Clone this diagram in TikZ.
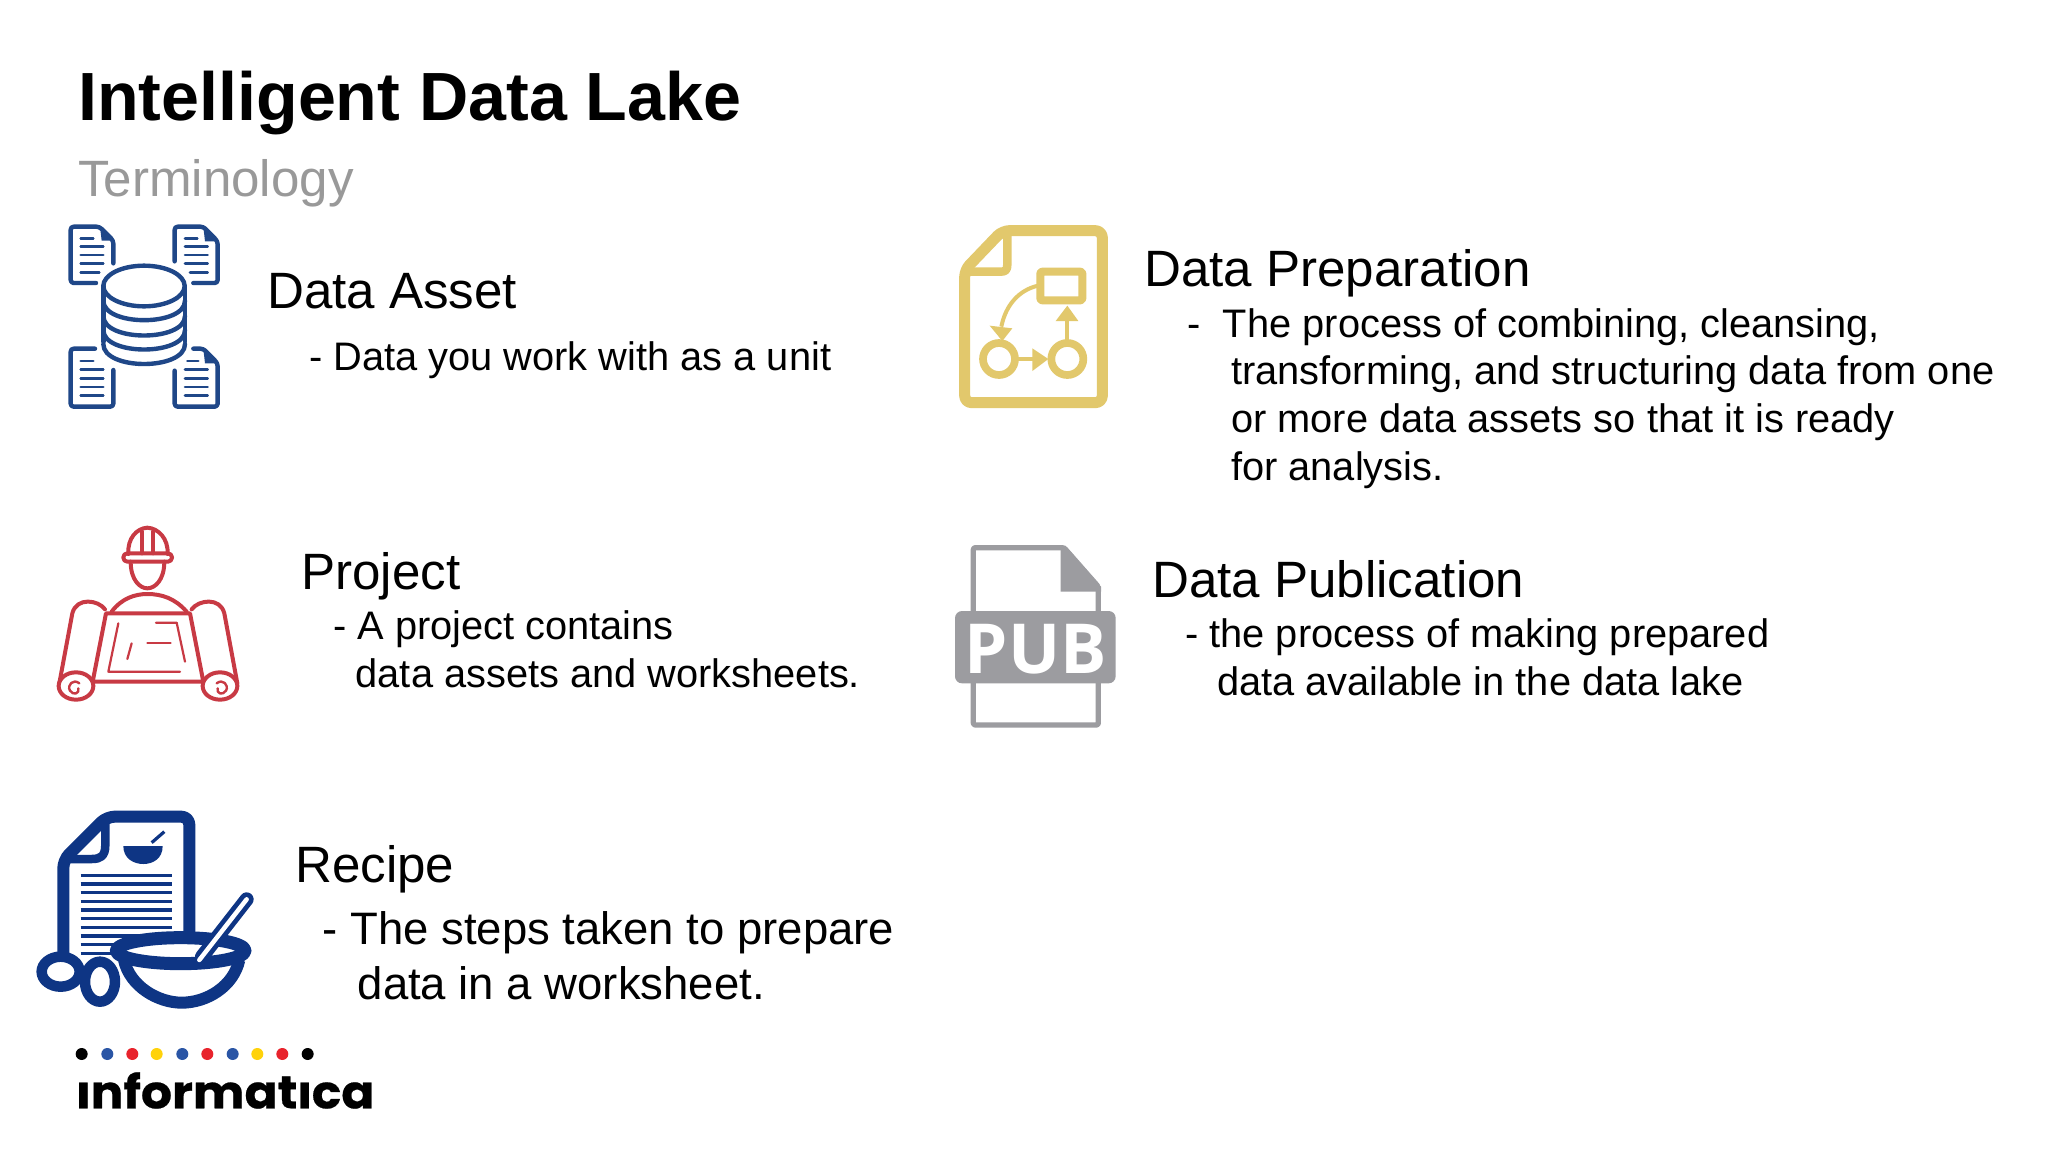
\documentclass[tikz,border=0pt]{standalone}
\usepackage{fontspec}
\setmainfont{Liberation Sans}
\newfontfamily\logofont[BoldFeatures={FakeBold=0.5,FakeStretch=1.06}]{Poppins}
\newfontfamily\pubfont{Open Sans}
\definecolor{assetblue}{HTML}{1F4788}
\definecolor{projred}{HTML}{C83A44}
\definecolor{recipeblue}{HTML}{0E3584}
\definecolor{prepgold}{HTML}{E2C86C}
\definecolor{pubgrey}{HTML}{9C9CA0}
\definecolor{subgrey}{HTML}{999999}
\definecolor{dotblue}{HTML}{2A55A5}
\definecolor{dotred}{HTML}{E8232C}
\definecolor{dotyellow}{HTML}{FFD20A}
\tikzset{
  txt/.style={anchor=base west,inner sep=0pt,text=black},
  titletxt/.style={txt,font=\fontsize{68.2}{68}\selectfont\bfseries},
  subtxt/.style={txt,text=subgrey,font=\fontsize{51.1}{51}\selectfont},
  headtxt/.style={txt,font=\fontsize{51.1}{51}\selectfont},
  bodytxt/.style={txt,font=\fontsize{39.8}{40}\selectfont},
  bigbody/.style={txt,font=\fontsize{45.5}{46}\selectfont},
  zA/.style={shift={(40,210)},x=0.33333pt,y=-0.33333pt},
  zB/.style={shift={(30,790)},x=0.33333pt,y=-0.33333pt},
  zP/.style={shift={(939,215)},x=0.33333pt,y=-0.33333pt},
  zQ/.style={shift={(940,535)},x=0.33333pt,y=-0.33333pt},
  logodot/.style={circle,inner sep=0pt,minimum size=12pt},
}
\begin{document}
\begin{tikzpicture}[x=1pt,y=-1pt]
\useasboundingbox (0,0) rectangle (2048,1152);
\fill[white] (0,0) rectangle (2048,1152);

% ---- texts
\node[titletxt] (title) at (78,120) {Intelligent Data Lake};
\node[subtxt] (sub) at (78,196) {Terminology};
\node[headtxt] (assetH) at (267,308) {Data Asset};
\node[bodytxt] (assetB) at (309,370) {- Data you work with as a unit};
\node[headtxt] (projH) at (301,589) {Project};
\node[bodytxt] (projA) at (333,639) {- A project contains};
\node[bodytxt] (projB) at (355.5,687) {data assets and worksheets.};
\node[headtxt] (recH) at (295,882) {Recipe};
\node[bigbody] (recA) at (322.5,944) {- The steps taken to prepare};
\node[bigbody] (recB) at (357.5,999) {data in a worksheet.};
\node[headtxt] (prepH) at (1144,286.5) {Data Preparation};
\node[bodytxt] (prepA) at (1187,337) {-\hspace{11.5pt} The process of combining, cleansing,};
\node[bodytxt] (prepB) at (1231,384.5) {transforming, and structuring data from one};
\node[bodytxt] (prepC) at (1231,432) {or more data assets so that it is ready};
\node[bodytxt] (prepD) at (1231,480) {for analysis.};
\node[headtxt] (pubH) at (1152,597) {Data Publication};
\node[bodytxt] (pubA) at (1185,647) {- the process of making prepared};
\node[bodytxt] (pubB) at (1217,695) {data available in the data lake};

% ---- data asset icon
\begin{scope}[zA,assetblue,line width=4.4pt,line join=round,line cap=round]
  \draw[rounded corners=3pt] (220,160) -- (220,92) -- (178,50) -- (92,50) -- (92,219) -- (168,219);
  \draw[rounded corners=3pt] (404,154) -- (404,50) -- (490,50) -- (533,94) -- (533,219) -- (460,219);
  \draw[rounded corners=3pt] (165,416) -- (92,416) -- (92,590) -- (220,590) -- (220,480);
  \draw[rounded corners=3pt] (404,482) -- (404,590) -- (533,590) -- (533,460) -- (490,416) -- (460,416);
  \fill (180,50) -- (220,92) -- (185,92) -- cycle;
  \fill (490,50) -- (533,94) -- (495,94) -- cycle;
  \fill (490,416) -- (533,460) -- (495,460) -- cycle;
  \begin{scope}[line width=2.6pt]
    \draw (122,85) -- (160,85) (122,110) -- (190,110) (122,135) -- (190,135) (122,161) -- (190,161) (122,187) -- (178,187);
    \draw (435,85) -- (472,85) (435,110) -- (503,110) (435,135) -- (503,135) (435,161) -- (503,161) (450,187) -- (503,187);
    \draw (122,453) -- (160,453) (122,479) -- (190,479) (122,505) -- (190,505) (122,531) -- (190,531) (122,556) -- (190,556);
    \draw (442,453) -- (475,453) (435,479) -- (503,479) (435,505) -- (503,505) (435,531) -- (503,531) (435,556) -- (503,556);
  \end{scope}
  \fill[white] (190,228) rectangle (435,400) (190,400) .. controls (190,480) and (435,480) .. (435,400);
  \draw (312,228) ellipse [x radius=122,y radius=61];
  \draw (190,228) -- (190,395) (435,228) -- (435,395);
  \draw (190,272) .. controls (190,350) and (435,350) .. (435,272);
  \draw (190,318) .. controls (190,396) and (435,396) .. (435,318);
  \draw (190,360) .. controls (190,438) and (435,438) .. (435,360);
  \draw (190,402) .. controls (190,482) and (435,482) .. (435,402);
\end{scope}

% ---- project icon
\begin{scope}[zA,projred,line width=4pt,line join=round,line cap=round]
  \draw (265,1032) .. controls (262,985) and (290,955) .. (322,953) .. controls (355,955) and (385,985) .. (383,1032);
  \draw[rounded corners=4pt] (250,1030) -- (396,1030) -- (396,1055) -- (250,1055) -- cycle;
  \draw (272,1055) .. controls (272,1110) and (300,1135) .. (322,1135) .. controls (345,1135) and (373,1110) .. (373,1055);
  \draw (306,965) -- (306,1030) (340,965) -- (340,1030);
  \draw (215,1205) .. controls (245,1165) and (285,1152) .. (322,1152) .. controls (365,1152) and (405,1165) .. (440,1205);
  \draw (198,1210) -- (450,1210) -- (490,1415) -- (158,1415) -- cycle;
  \draw (195,1198) .. controls (175,1170) and (110,1160) .. (97,1210) -- (58,1420);
  \draw (455,1198) .. controls (475,1170) and (540,1160) .. (553,1210) -- (592,1420);
  \draw[fill=white] (108,1428) ellipse [x radius=52,y radius=41];
  \draw[fill=white] (540,1428) ellipse [x radius=52,y radius=41];
  \draw[line width=2.4pt] (118,1420) .. controls (100,1405) and (80,1425) .. (90,1442) .. controls (100,1458) and (120,1450) .. (115,1435);
  \draw[line width=2.4pt] (530,1420) .. controls (548,1405) and (568,1425) .. (558,1442) .. controls (548,1458) and (528,1450) .. (533,1435);
  \begin{scope}[line width=2.2pt]
    \draw (235,1240) -- (205,1385) -- (420,1385);
    \draw (348,1238) -- (410,1238) -- (435,1355);
    \draw (322,1300) -- (392,1300);
    \draw (275,1300) -- (262,1347);
  \end{scope}
\end{scope}

% ---- recipe icon
\begin{scope}[zB,recipeblue,line join=round,line cap=butt]
  \draw[line width=12pt,rounded corners=8pt] (100,490) -- (100,210) -- (230,80) -- (478,80) -- (478,430);
  \draw[line width=8.5pt] (226,90) -- (226,165) .. controls (226,200) and (210,207) .. (185,207) -- (110,207);
  \foreach \yy in {256,282,308,334,360,386,412,438,464,490}
    \draw[line width=3.3pt] (152,\yy) -- (425,\yy);
  \fill (280,168) -- (398,168) .. controls (398,205) and (370,222) .. (340,222) .. controls (310,222) and (280,205) .. (280,168) -- cycle;
  \draw[line width=3.2pt] (365,158) -- (403,125);
  \draw[line width=10.5pt,fill=white] (92,545) ellipse [x radius=57,y radius=45];
  \draw[line width=10.5pt,fill=white] (210,575) ellipse [x radius=45,y radius=60];
  \draw[line width=12pt,fill=white] (282,510) .. controls (300,590) and (385,638) .. (455,638) .. controls (530,638) and (610,590) .. (628,510);
  \draw[line width=13pt,fill=white] (452,482) ellipse [x radius=193,y radius=39];
  \draw[line width=14pt,line cap=round] (516,500) -- (650,328);
  \draw[white,line width=4.5pt,line cap=round] (508,510) -- (650,328);
\end{scope}

% ---- preparation icon
\begin{scope}[zP,prepgold,line join=round]
  \draw[line width=11pt,rounded corners=7pt] (77,165) -- (190,47) -- (490,47) -- (490,563) -- (77,563) -- cycle;
  \draw[line width=8.5pt] (205,60) -- (205,148) .. controls (205,165) and (200,170) .. (185,170) -- (85,170);
  \draw[line width=8pt,rounded corners=2pt] (304,170) rectangle (430,256);
  \draw[line width=7.7pt] (180,432) circle [radius=48];
  \draw[line width=7.7pt] (385,432) circle [radius=48];
  \draw[line width=4pt] (235,432) -- (285,432);
  \fill (280,400) -- (328,432) -- (280,468) -- cycle;
  \draw[line width=4pt] (385,378) -- (385,312);
  \fill (350,318) -- (418,318) -- (385,272) -- cycle;
  \draw[line width=4pt] (297,212) .. controls (240,225) and (200,270) .. (187,335);
  \fill (152,332) -- (220,340) -- (190,378) -- cycle;
\end{scope}

% ---- publication icon
\begin{scope}[zQ,pubgrey,line join=round]
  \draw[line width=5.3pt,rounded corners=2pt] (100,235) -- (100,38) -- (372,38) -- (475,155) -- (475,235);
  \draw[line width=5.3pt,rounded corners=2pt] (100,435) -- (100,570) -- (475,570) -- (475,435);
  \fill (362,32) -- (376,32) -- (483,155) -- (483,170) -- (362,170) -- cycle;
  \fill[rounded corners=7pt] (45,228) rectangle (527,445);
  \node[anchor=base,inner sep=0pt,text=white,font=\pubfont\bfseries\fontsize{69}{69}\selectfont] (pubicon) at (287,415) {PUB};
\end{scope}

% ---- logo
\begin{scope}[zB]
  \foreach \xx/\cc [count=\ii] in {155/black,232/dotblue,307/dotred,380/dotyellow,457/dotblue,532/dotred,608/dotblue,682/dotyellow,757/dotred,833/black}
    \node[logodot,fill=\cc] (dot\ii) at (\xx,792) {};
  \node[anchor=base west,inner sep=0pt,text=black,font=\logofont\bfseries\fontsize{46}{46}\selectfont] (logo) at (138,955) {informatica};
\end{scope}
% the logotype's i has no dot
\fill[white] (74,1062) rectangle (93,1081.5);
\fill[white] (291,1062) rectangle (316,1081.5);
\end{tikzpicture}
\end{document}
